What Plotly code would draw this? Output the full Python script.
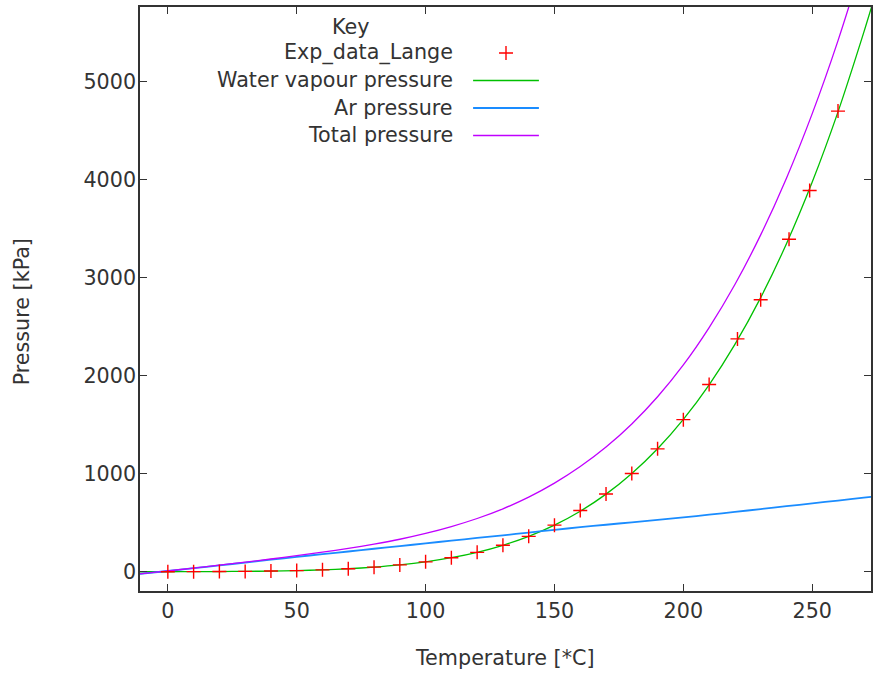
import plotly.graph_objects as go

# Experimental saturation data (Lange)
T_exp = [0, 10, 20, 30, 40, 50, 60, 70, 80, 90, 100, 110, 120, 130, 140,
         150, 160, 170, 180, 190, 200, 210, 221, 230, 241, 249, 260]
P_exp = [0.6, 1.2, 2.3, 4.2, 7.4, 12.3, 19.9, 31.2, 47.4, 70.1, 101.3, 143.3,
         198.5, 270.1, 361.4, 476, 625, 793, 1003, 1254, 1552, 1910, 2376,
         2775, 3393, 3890, 4700]

# Model curves
T_curve = [-10.8, 0, 10, 20, 30, 40, 50, 60, 70, 80, 90, 100, 110, 120, 130,
           140, 150, 160, 170, 180, 190, 200, 210, 220, 230, 240, 250, 260,
           270, 273.1]
P_water = [0.26, 0.61, 1.23, 2.34, 4.25, 7.38, 12.35, 19.95, 31.2, 47.4, 70.1,
           101.3, 143.4, 198.7, 270.3, 361.5, 476.2, 618.2, 792.2, 1002.8,
           1255.2, 1554.9, 1907.7, 2319.6, 2797.1, 3346.9, 3976.2, 4692.3,
           5503, 5770]
P_ar = [-22, 8, 37, 65, 94, 123, 152, 180, 207, 235, 262, 290, 318, 345, 372,
        400, 428, 455, 480, 505, 530, 555, 583, 611, 640, 669, 698, 727, 756,
        765]
P_total = [w + a for w, a in zip(P_water, P_ar)]

x_ticks = [0, 50, 100, 150, 200, 250]
y_ticks = [0, 1000, 2000, 3000, 4000, 5000]

RED = "#ff0000"
GREEN = "#00c000"
BLUE = "#1a8cff"
PURPLE = "#c000ff"
FONT = "DejaVu Sans"
TXT = "#333333"
FS = 20.7

W, H = 874, 675
L, R, T, B = 140, 1, 7, 84

fig = go.Figure()

fig.add_trace(go.Scatter(x=T_curve, y=P_water, mode="lines",
                         line=dict(color=GREEN, width=1.3, shape="spline", smoothing=0.6),
                         name="Water vapour pressure"))
fig.add_trace(go.Scatter(x=T_curve, y=P_ar, mode="lines",
                         line=dict(color=BLUE, width=1.8, shape="spline", smoothing=0.6),
                         name="Ar pressure"))
fig.add_trace(go.Scatter(x=T_curve, y=P_total, mode="lines",
                         line=dict(color=PURPLE, width=1.3, shape="spline", smoothing=0.6),
                         name="Total pressure"))
fig.add_trace(go.Scatter(x=T_exp, y=P_exp, mode="markers",
                         marker=dict(symbol="cross-thin", size=10,
                                     line=dict(color=RED, width=1.4)),
                         name="Exp_data_Lange"))

# Key (gnuplot style: text right-aligned, sample to the right)
pw, ph = W - L - R, H - T - B


def px_x(x):
    return (x - L) / pw


def px_y(y):
    return (H - B - y) / ph


key_entries = [
    ("Exp_data_Lange", "marker", RED),
    ("Water vapour pressure", "line", GREEN),
    ("Ar pressure", "line", BLUE),
    ("Total pressure", "line", PURPLE),
]
row_y = [53, 80.5, 108, 135.5]
text_right = 456
samp_x0, samp_x1 = 474, 540

annotations = [dict(text="Key", xref="paper", yref="paper", x=px_x(352), y=px_y(27),
                    xanchor="center", yanchor="middle", showarrow=False,
                    font=dict(family=FONT, size=FS, color=TXT))]
for (label, kind, col), yy in zip(key_entries, row_y):
    annotations.append(dict(text=label, xref="paper", yref="paper",
                            x=px_x(text_right), y=px_y(yy), xanchor="right",
                            yanchor="middle", showarrow=False,
                            font=dict(family=FONT, size=FS, color=TXT)))
    if kind == "line":
        fig.add_trace(go.Scatter(x=[px_x(samp_x0), px_x(samp_x1)], y=[px_y(yy)] * 2,
                                 xaxis="x2", yaxis="y2", mode="lines",
                                 line=dict(color=col, width=1.5 if col != BLUE else 1.8),
                                 hoverinfo="skip", showlegend=False))
    else:
        fig.add_trace(go.Scatter(x=[px_x((samp_x0 + samp_x1) / 2)], y=[px_y(yy)],
                                 xaxis="x2", yaxis="y2", mode="markers",
                                 marker=dict(symbol="cross-thin", size=10,
                                             line=dict(color=col, width=1.4)),
                                 hoverinfo="skip", showlegend=False))

annotations.append(dict(text="Temperature [*C]", xref="paper", yref="paper",
                        x=px_x(506), y=px_y(658), xanchor="center", yanchor="middle",
                        showarrow=False, font=dict(family=FONT, size=FS, color=TXT)))
annotations.append(dict(text="Pressure [kPa]", xref="paper", yref="paper",
                        x=px_x(22), y=px_y(312), xanchor="center", yanchor="middle",
                        textangle=-90, showarrow=False,
                        font=dict(family=FONT, size=FS, color=TXT)))

axis_common = dict(showline=True, linecolor="#333333", linewidth=1.5, mirror="ticks",
                   ticks="inside", ticklen=7, tickwidth=1, tickcolor="#333333",
                   showgrid=False, zeroline=False,
                   tickfont=dict(family=FONT, size=FS, color=TXT))

fig.update_layout(
    width=W, height=H,
    margin=dict(l=L, r=R, t=T, b=B),
    paper_bgcolor="white", plot_bgcolor="white",
    showlegend=False,
    xaxis=dict(range=[-10.8, 272.8], tickvals=x_ticks, ticklabelstandoff=0, **axis_common),
    yaxis=dict(range=[-196, 5762], tickvals=y_ticks, tickformat="d",
               ticklabelstandoff=-2, **axis_common),
    xaxis2=dict(range=[0, 1], overlaying="x", visible=False, fixedrange=True),
    yaxis2=dict(range=[0, 1], overlaying="y", visible=False, fixedrange=True),
    annotations=annotations,
)

fig.write_html("out.html")
